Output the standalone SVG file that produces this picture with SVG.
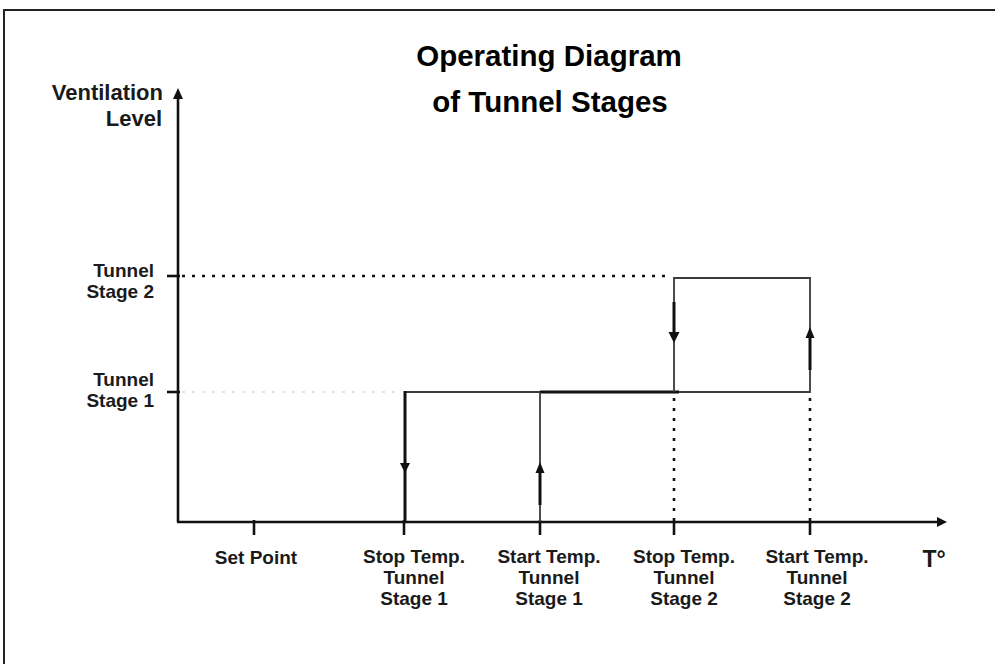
<svg xmlns="http://www.w3.org/2000/svg" width="995" height="664" viewBox="0 0 995 664">
  <style>
    text { font-family: "Liberation Sans", Arial, sans-serif; font-weight: bold; fill: #1a1a1a; }
    .title { font-size: 29.5px; text-anchor: middle; fill: #000; }
    .ylab { font-size: 22px; text-anchor: end; }
    .stage { font-size: 19px; text-anchor: end; }
    .xlab { font-size: 19px; text-anchor: middle; }
    .axis { stroke: #111; stroke-width: 2.6; fill: none; }
    .tick { stroke: #111; stroke-width: 2.6; }
    .dots { stroke: #111; stroke-width: 2.6; stroke-dasharray: 3 7; fill: none; }
    .faint { stroke: #c8c8c8; stroke-width: 1.2; stroke-dasharray: 3 7; fill: none; }
    .thin { stroke: #3a3a3a; stroke-width: 1.8; fill: none; }
    .thick { stroke: #111; stroke-width: 3; fill: none; }
    .head { fill: #111; }
  </style>

  <!-- outer frame (open to the right and bottom) -->
  <path d="M4,670 V10 H1000" fill="none" stroke="#222" stroke-width="2"/>

  <!-- title -->
  <g id="title">
    <text class="title" x="549" y="66">Operating Diagram</text>
    <text class="title" x="550" y="112">of Tunnel Stages</text>
  </g>

  <!-- axes -->
  <g id="axes">
    <line class="axis" x1="178" y1="522" x2="178" y2="97"/>
    <polygon class="head" points="178,88 173,99 183,99"/>
    <line class="axis" x1="177" y1="522" x2="938" y2="522"/>
    <polygon class="head" points="947,522 937,517 937,527"/>
    <!-- y ticks -->
    <line class="tick" x1="167" y1="276" x2="180" y2="276"/>
    <line class="tick" x1="167" y1="392" x2="180" y2="392"/>
    <!-- x ticks -->
    <line class="tick" x1="254" y1="520" x2="254" y2="535"/>
    <line class="tick" x1="404" y1="520" x2="404" y2="535"/>
    <line class="tick" x1="540" y1="520" x2="540" y2="535"/>
    <line class="tick" x1="674" y1="520" x2="674" y2="535"/>
    <line class="tick" x1="810" y1="520" x2="810" y2="535"/>
    <text x="934" y="567" style="font-size:23px;text-anchor:middle">T°</text>
  </g>

  <!-- axis labels -->
  <g id="y-label">
    <text class="ylab" x="163" y="100">Ventilation</text>
    <text class="ylab" x="162" y="126">Level</text>
  </g>
  <g id="level-stage2">
    <text class="stage" x="154" y="277">Tunnel</text>
    <text class="stage" x="154" y="298">Stage 2</text>
  </g>
  <g id="level-stage1">
    <text class="stage" x="154" y="386">Tunnel</text>
    <text class="stage" x="154" y="407">Stage 1</text>
  </g>
  <g id="x-setpoint">
    <text class="xlab" x="256" y="564">Set Point</text>
  </g>
  <g id="x-stop1">
    <text class="xlab" x="414" y="563">Stop Temp.</text>
    <text class="xlab" x="414" y="584">Tunnel</text>
    <text class="xlab" x="414" y="605">Stage 1</text>
  </g>
  <g id="x-start1">
    <text class="xlab" x="549" y="563">Start Temp.</text>
    <text class="xlab" x="549" y="584">Tunnel</text>
    <text class="xlab" x="549" y="605">Stage 1</text>
  </g>
  <g id="x-stop2">
    <text class="xlab" x="684" y="563">Stop Temp.</text>
    <text class="xlab" x="684" y="584">Tunnel</text>
    <text class="xlab" x="684" y="605">Stage 2</text>
  </g>
  <g id="x-start2">
    <text class="xlab" x="817" y="563">Start Temp.</text>
    <text class="xlab" x="817" y="584">Tunnel</text>
    <text class="xlab" x="817" y="605">Stage 2</text>
  </g>

  <!-- hysteresis paths -->
  <g id="connectors">
    <!-- guide lines -->
    <line class="dots" x1="182" y1="276" x2="672" y2="276"/>
    <line class="faint" x1="182" y1="392" x2="402" y2="392"/>
    <line class="dots" x1="674" y1="398" x2="674" y2="520"/>
    <line class="dots" x1="810" y1="398" x2="810" y2="520"/>

    <!-- stage 1 loop -->
    <line class="thin" x1="404" y1="392" x2="540" y2="392"/>
    <line class="thick" x1="540" y1="392" x2="679" y2="392"/>
    <line class="thick" x1="405" y1="391" x2="405" y2="522"/>
    <polygon class="head" points="405,473 400,463 410,463"/>
    <line class="thin" x1="540" y1="392" x2="540" y2="522"/>
    <line class="thick" x1="540" y1="505" x2="540" y2="470"/>
    <polygon class="head" points="540,462 535.5,473 544.5,473"/>

    <!-- stage 2 loop -->
    <path class="thin" d="M674,392 V278 H810 V392 H679"/>
    <line class="thick" x1="674" y1="302" x2="674" y2="335"/>
    <polygon class="head" points="674,343 668.5,332 679.5,332"/>
    <line class="thick" x1="810" y1="370" x2="810" y2="336"/>
    <polygon class="head" points="810,327 805.5,338 814.5,338"/>
  </g>
</svg>
